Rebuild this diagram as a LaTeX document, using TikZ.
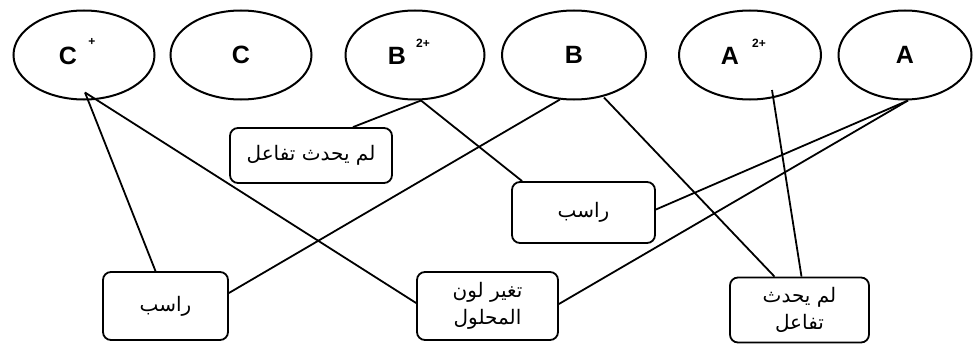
\documentclass[tikz,border=0pt]{standalone}
\usepackage{fontspec}
\setmainfont{Liberation Sans}
\newfontfamily\arabicfont[Script=Arabic]{DejaVu Sans}
\TeXXeTstate=1
\usetikzlibrary{shapes.geometric,calc}
\begin{document}
\begin{tikzpicture}[x=1pt,y=-1pt,
  ion/.style={draw, line width=2pt, ellipse, minimum height=89pt, inner sep=0pt,
    font=\fontsize{25}{28}\selectfont\bfseries},
  box/.style={draw, line width=1.8pt, rounded corners=8pt, inner sep=0pt, align=center,
    font=\fontsize{20}{27}\selectfont\arabicfont},
  link/.style={line width=1.8pt},
  lbl/.style={font=\fontsize{25}{28}\selectfont\bfseries},
  sup/.style={font=\fontsize{12}{14}\selectfont\bfseries}]
\useasboundingbox (0,0) rectangle (974,345);
% ions
\node[ion, minimum width=141pt] (cplus) at (84,55) {};
\node[ion, minimum width=141pt] (c) at (241,55) {C};
\node[ion, minimum width=139pt] (bplus) at (415,55) {};
\node[ion, minimum width=144pt] (b) at (574,55) {B};
\node[ion, minimum width=142pt] (aplus) at (750,55) {};
\node[ion, minimum width=133pt] (a) at (905,55) {A};
% ion labels with charges
\node[lbl] (cl) at (68,56) {C};
\node[sup] (cs) at (92,42) {+};
\node[lbl] (bl) at (397,56) {B};
\node[sup] (bs) at (423,43) {2+};
\node[lbl] (al) at (730,56) {A};
\node[sup] (as) at (759,43) {2+};
% result boxes
\node[box, minimum width=162pt, minimum height=55pt] (nr1) at (311,155.5) {\beginR لم يحدث تفاعل\endR};
\node[box, minimum width=125pt, minimum height=68pt] (r1) at (165.5,306) {\beginR راسب\endR};
\node[box, minimum width=141pt, minimum height=68pt] (tl) at (487.5,306) {\beginR تغير لون\endR\\\beginR المحلول\endR};
\node[box, minimum width=143pt, minimum height=61pt] (r2) at (583.5,212.5) {\beginR راسب\endR};
\node[box, minimum width=139pt, minimum height=65pt] (nr2) at (799.5,310) {\beginR لم يحدث\endR\\\beginR تفاعل\endR};
% connectors
\draw[link] ($(cplus.south)+(1,-8)$) -- ($(r1.north)+(-10,0)$);
\draw[link] ($(cplus.south)+(1,-8)$) -- ($(tl.west)+(0,-3)$);
\draw[link] ($(bplus.south)+(6,0)$) -- ($(nr1.north)+(42,0)$);
\draw[link] ($(bplus.south)+(6,0)$) -- ($(r2.north west)+(11,0)$);
\draw[link] ($(b.south)+(-14,-1)$) -- ($(r1.east)+(0,-13)$);
\draw[link] ($(b.south)+(30,-3)$) -- ($(nr2.north)+(-25,0)$);
\draw[link] ($(aplus.center)+(22,35)$) -- ($(nr2.north)+(2,0)$);
\draw[link] ($(a.south)+(3,0)$) -- ($(r2.east)+(0,-3)$);
\draw[link] ($(a.south)+(3,0)$) -- ($(tl.east)+(0,-2)$);
\end{tikzpicture}
\end{document}
